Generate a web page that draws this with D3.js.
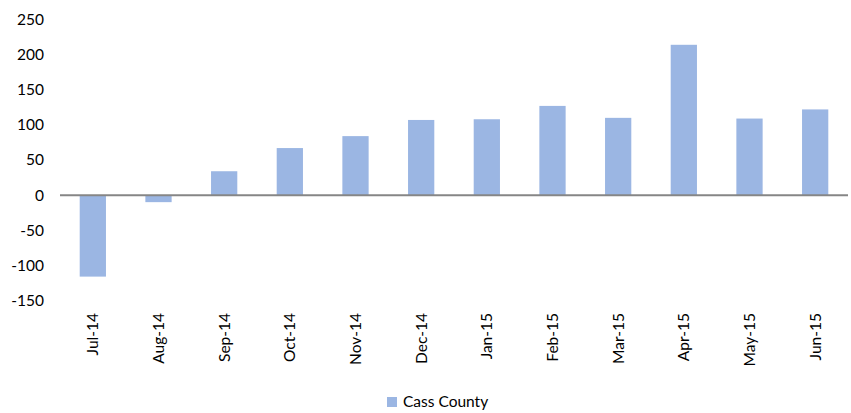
<!DOCTYPE html>
<html>
<head>
<meta charset="utf-8">
<script src="https://cdn.jsdelivr.net/npm/d3@7"></script>
<style>
  body { margin: 0; background: #fff; }
  text { font-family: Lato, "Open Sans", sans-serif; fill: #000; }
</style>
</head>
<body>
<div id="chart"></div>
<script>
// Monthly change, Cass County
let months = ["Jul-14", "Aug-14", "Sep-14", "Oct-14", "Nov-14", "Dec-14",
    "Jan-15", "Feb-15", "Mar-15", "Apr-15", "May-15", "Jun-15"];
let values = [-116, -10, 34, 67, 84, 107, 108, 127, 110, 214, 109, 122];
let yTicks = [-150, -100, -50, 0, 50, 100, 150, 200, 250];
let seriesName = "Cass County";

let width = 851, height = 413;
let margin = { top: 20, right: 3, bottom: 113, left: 60 };

let svg = d3.select("#chart").append("svg")
    .attr("width", width)
    .attr("height", height);

let x = d3.scaleBand()
    .domain(months)
    .range([margin.left, width - margin.right])
    .paddingInner(0.6)
    .paddingOuter(0.3);

let y = d3.scaleLinear()
    .domain([-150, 250])
    .range([height - margin.bottom + 0.5, margin.top - 0.5]);

// y labels, no axis line
svg.append("g")
    .selectAll("text")
    .data(yTicks)
    .join("text")
    .attr("x", 44)
    .attr("y", d => y(d))
    .attr("dy", "0.35em")
    .attr("text-anchor", "end")
    .style("font-size", "15.5px")
    .text(d => d);

// bars
svg.append("g")
    .selectAll("rect")
    .data(values)
    .join("rect")
    .attr("x", (d, i) => x(months[i]))
    .attr("width", x.bandwidth())
    .attr("y", d => y(Math.max(0, d)))
    .attr("height", d => Math.abs(y(d) - y(0)))
    .attr("fill", "#9bb6e3");

// zero line
svg.append("line")
    .attr("x1", margin.left)
    .attr("x2", width - margin.right)
    .attr("y1", y(0))
    .attr("y2", y(0))
    .attr("stroke", "#868686")
    .attr("stroke-width", 2);

// x labels, rotated
svg.append("g")
    .selectAll("text")
    .data(months)
    .join("text")
    .attr("transform", d => `translate(${x(d) + x.bandwidth() / 2},313) rotate(-90)`)
    .attr("dy", "0.35em")
    .attr("text-anchor", "end")
    .style("font-size", "15.5px")
    .text(d => d);

// legend
let legend = svg.append("g").attr("transform", "translate(387,397)");
legend.append("rect")
    .attr("width", 10)
    .attr("height", 10)
    .attr("fill", "#9bb6e3");
legend.append("text")
    .attr("x", 16)
    .attr("y", 5)
    .attr("dy", "0.35em")
    .style("font-size", "15.5px")
    .text(seriesName);
</script>
</body>
</html>
